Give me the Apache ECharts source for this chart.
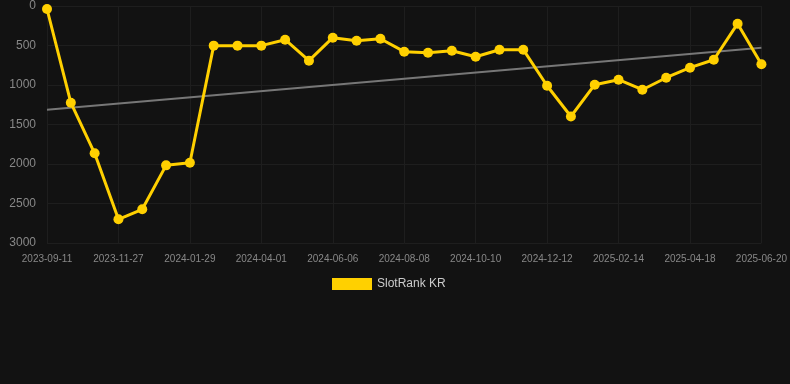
<!DOCTYPE html>
<html><head><meta charset="utf-8">
<script src="https://cdn.jsdelivr.net/npm/echarts@6/dist/echarts.min.js"></script>
<style>html,body{margin:0;padding:0;background:#121212}#c{width:790px;height:384px}</style>
</head><body><div id="c"></div>
<script>
const categories = ["2023-09-11","2023-10-06","2023-11-01","2023-11-27","2023-12-18","2024-01-08","2024-01-29","2024-02-19","2024-03-11","2024-04-01","2024-04-23","2024-05-15","2024-06-06","2024-06-27","2024-07-18","2024-08-08","2024-08-29","2024-09-19","2024-10-10","2024-10-31","2024-11-21","2024-12-12","2025-01-02","2025-01-24","2025-02-14","2025-03-07","2025-03-28","2025-04-18","2025-05-09","2025-05-30","2025-06-20"];
const rankValues = [38,1224,1865,2700,2573,2017,1984,502,502,502,427,692,401,439,414,578,591,566,642,553,553,1009,1399,996,933,1060,908,781,680,224,738];
const trendStart = 1313;
const trendEnd = 528;
const yTicks = [0,500,1000,1500,2000,2500,3000];
const seriesName = "SlotRank KR";

const chart = echarts.init(document.getElementById('c'));
chart.setOption({
  backgroundColor: '#121212',
  animation: false,
  grid: {left: 47, right: 28, top: 6, bottom: 141},
  legend: {
    data: [{name: seriesName, icon: 'rect'}],
    top: 273, left: 327,
    itemWidth: 40, itemHeight: 12, itemGap: 10,
    textStyle: {color: '#cccccc', fontSize: 12, fontFamily: 'Liberation Sans, Arial, sans-serif'}
  },
  xAxis: {
    type: 'category', data: categories, boundaryGap: false,
    axisLine: {show: false}, axisTick: {show: false},
    axisLabel: {interval: 2, color: '#888888', fontSize: 10, margin: 11, fontFamily: 'Liberation Sans, Arial, sans-serif'},
    splitLine: {show: true, interval: 2, lineStyle: {color: '#1e1e1e', width: 1}}
  },
  yAxis: {
    type: 'value', inverse: true, min: yTicks[0], max: yTicks[yTicks.length-1], interval: yTicks[1]-yTicks[0],
    axisLine: {show: false}, axisTick: {show: false},
    axisLabel: {color: '#888888', fontSize: 12, margin: 11, fontFamily: 'Liberation Sans, Arial, sans-serif', formatter: v => String(v)},
    splitLine: {lineStyle: {color: '#1e1e1e', width: 1}}
  },
  series: [
    {
      name: seriesName, type: 'line', data: rankValues,
      symbol: 'circle', symbolSize: 10,
      lineStyle: {color: '#FFD000', width: 3},
      itemStyle: {color: '#FFD000'},
      z: 3
    },
    {
      name: 'trend', type: 'line',
      data: [[categories[0], trendStart], [categories[categories.length-1], trendEnd]],
      symbol: 'none',
      lineStyle: {color: '#777777', width: 2},
      z: 2
    }
  ]
});
</script></body></html>
